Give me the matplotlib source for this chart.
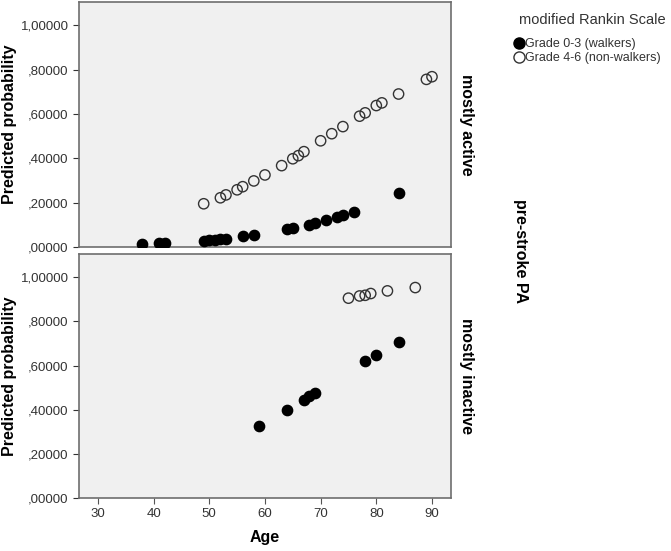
import numpy as np
import matplotlib.pyplot as plt
from matplotlib.ticker import FuncFormatter
from matplotlib.lines import Line2D

# mostly active, walkers (mRS 0-3)
act_walk_age = [38, 41, 42, 49, 50, 51, 52, 53, 56, 58, 64, 65, 68, 69, 71, 73, 74, 76, 84]
act_walk_p = [0.015, 0.018, 0.019, 0.028, 0.030, 0.032, 0.034, 0.037, 0.050, 0.054,
              0.080, 0.085, 0.100, 0.108, 0.120, 0.135, 0.145, 0.160, 0.242]
# mostly active, non-walkers (mRS 4-6)
act_non_age = [49, 52, 53, 55, 56, 58, 60, 63, 65, 66, 67, 70, 72, 74, 77, 78, 80, 81, 84, 89, 90]
act_non_p = [0.195, 0.222, 0.235, 0.258, 0.272, 0.298, 0.325, 0.367, 0.398, 0.412, 0.430,
             0.479, 0.511, 0.543, 0.590, 0.605, 0.638, 0.650, 0.690, 0.756, 0.768]
# mostly inactive, walkers
inact_walk_age = [59, 64, 67, 68, 69, 78, 80, 84]
inact_walk_p = [0.324, 0.397, 0.442, 0.460, 0.476, 0.620, 0.649, 0.706]
# mostly inactive, non-walkers
inact_non_age = [75, 77, 78, 79, 82, 87]
inact_non_p = [0.905, 0.915, 0.918, 0.926, 0.938, 0.953]

y_ticks = [0.0, 0.2, 0.4, 0.6, 0.8, 1.0]
x_ticks = [30, 40, 50, 60, 70, 80, 90]

plt.rcParams['font.family'] = ['Liberation Sans', 'DejaVu Sans']


def fmt(v, pos):
    s = "{:.5f}".format(v).replace(".", ",")
    if s.startswith("0"):
        s = s[1:]
    return s


def style(ax):
    ax.set_facecolor('#f0f0f0')
    for sp in ax.spines.values():
        sp.set_color('#6e6e6e')
        sp.set_linewidth(1.2)
    ax.set_xlim(26.6, 93.4)
    ax.set_ylim(0, 1.105)
    ax.set_yticks(y_ticks)
    ax.yaxis.set_major_formatter(FuncFormatter(fmt))
    ax.set_xticks(x_ticks)
    ax.tick_params(colors='#333333', labelsize=9.5, length=4, width=0.8)
    ax.tick_params(axis='x', colors='#555555', labelcolor='#333333')
    ax.set_ylabel('Predicted probability', fontsize=11.5, fontweight='bold')
    ax.yaxis.set_label_coords(-0.167, 0.5)


def main():
    fig = plt.figure(figsize=(6.71, 5.51), dpi=100)
    ax1 = fig.add_axes([0.1177, 0.5517, 0.5543, 0.4447])
    ax2 = fig.add_axes([0.1177, 0.0962, 0.5543, 0.4428])

    ms = 55
    ax1.scatter(act_walk_age, act_walk_p, s=ms, c='black', zorder=3)
    ax1.scatter(act_non_age, act_non_p, s=ms, facecolors='none', edgecolors='#333333',
                linewidths=1.0, zorder=3)
    ax2.scatter(inact_walk_age, inact_walk_p, s=ms, c='black', zorder=3)
    ax2.scatter(inact_non_age, inact_non_p, s=ms, facecolors='none', edgecolors='#333333',
                linewidths=1.0, zorder=3)

    style(ax1)
    style(ax2)
    ax1.tick_params(axis='x', bottom=False, labelbottom=False)
    ax2.set_xlabel('Age', fontsize=11.5, fontweight='bold', labelpad=7)

    fig.text(0.695, 0.774, 'mostly active', rotation=-90, ha='center', va='center',
             fontsize=11.5, fontweight='bold')
    fig.text(0.695, 0.318, 'mostly inactive', rotation=-90, ha='center', va='center',
             fontsize=11.5, fontweight='bold')
    fig.text(0.775, 0.545, 'pre-stroke PA', rotation=-90, ha='center', va='center',
             fontsize=11.5, fontweight='bold')

    handles = [
        Line2D([], [], marker='o', ls='', color='black', markersize=8),
        Line2D([], [], marker='o', ls='', markerfacecolor='none',
               markeredgecolor='#333333', markersize=8),
    ]
    leg = fig.legend(handles, ['Grade 0-3 (walkers)', 'Grade 4-6 (non-walkers)'],
                     title='modified Rankin Scale', loc='upper left',
                     bbox_to_anchor=(0.751, 0.992), frameon=False, fontsize=9.0,
                     title_fontsize=10.5, handletextpad=0.0, handlelength=1.0,
                     labelspacing=0.15, borderpad=0.2)
    leg._legend_box.align = 'left'
    leg._legend_box.sep = 8
    for t in leg.get_texts():
        t.set_color('#333333')
    leg.get_title().set_color('#333333')
    leg.get_title().set_position((6, 0))

    fig.savefig('out.png', dpi=100)


if __name__ == "__main__":
    main()
